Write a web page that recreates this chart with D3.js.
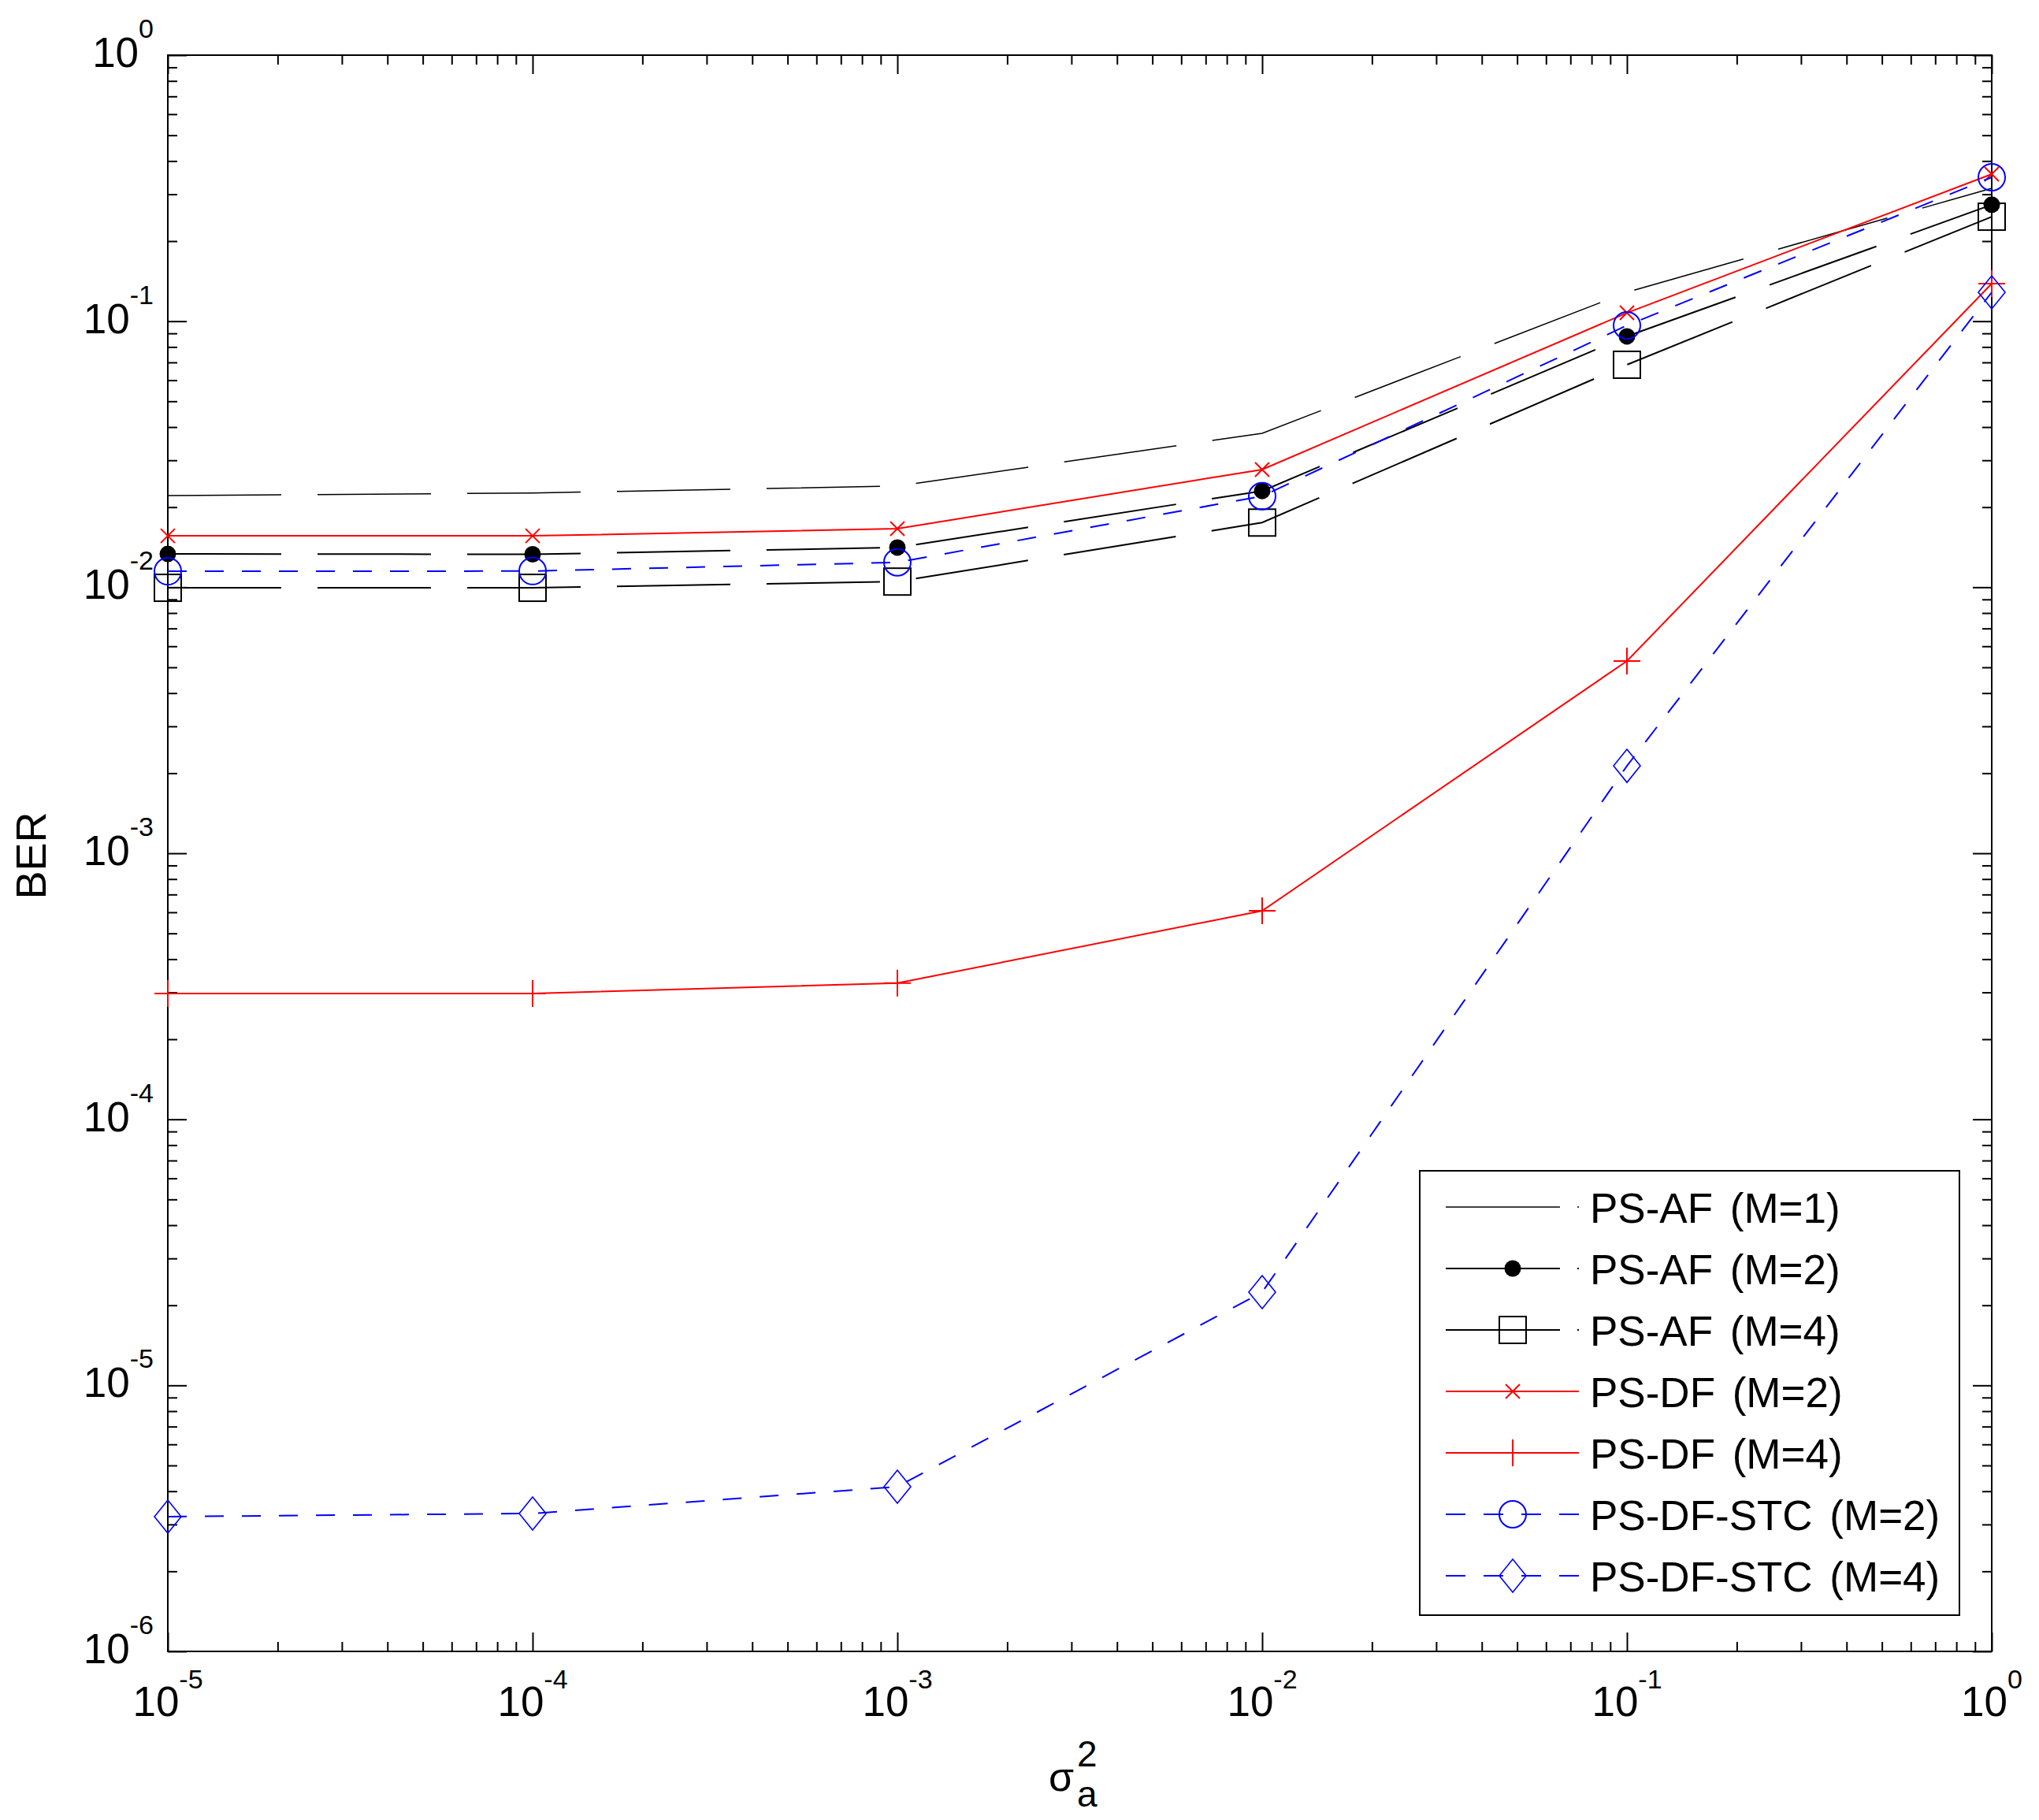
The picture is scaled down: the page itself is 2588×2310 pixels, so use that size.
<!DOCTYPE html>
<html lang="en">
<head>
  <meta charset="UTF-8">
  <title>BER vs sigma_a^2</title>
  <script src="https://d3js.org/d3.v7.min.js"></script>
  <style>
    body { margin: 0; background: #fff; }
    text { font-family: "Liberation Sans", Arial, sans-serif; fill: #000; }
  </style>
</head>
<body>
  <svg id="chart" width="2588" height="2310"></svg>

  <script>
    // Data
    const sigmaValues = [1e-5, 1e-4, 1e-3, 1e-2, 1e-1, 1];
    const psAfM1 = [0.0221, 0.0226, 0.0240, 0.0379, 0.1284, 0.316];
    const psAfM2 = [0.01334, 0.0133, 0.0141, 0.0230, 0.0877, 0.274];
    const psAfM4 = [0.00995, 0.00995, 0.0105, 0.0175, 0.0686, 0.247];
    const psDfM2 = [0.0156, 0.0156, 0.0166, 0.0277, 0.1075, 0.357];
    const psDfM4 = [2.97e-4, 2.97e-4, 3.25e-4, 6.08e-4, 5.28e-3, 0.1384];
    const stcM2 = [0.01148, 0.0115, 0.0124, 0.0220, 0.0964, 0.3475];
    const stcM4 = [3.21e-6, 3.30e-6, 4.16e-6, 2.24e-5, 2.13e-3, 0.1284];

    const seriesNames = ["PS-AF (M=1)", "PS-AF (M=2)", "PS-AF (M=4)", "PS-DF (M=2)",
                         "PS-DF (M=4)", "PS-DF-STC (M=2)", "PS-DF-STC (M=4)"];

    const xTickExponents = [-5, -4, -3, -2, -1, 0];
    const yTickExponents = [-6, -5, -4, -3, -2, -1, 0];

    // series table built from the arrays above
    const series = [
      { name: seriesNames[0], values: psAfM1, color: "#000", width: 1.5, dash: "144,46", legendDash: null, marker: null },
      { name: seriesNames[1], values: psAfM2, color: "#000", width: 2,   dash: "144,46", legendDash: null, marker: "dot" },
      { name: seriesNames[2], values: psAfM4, color: "#000", width: 2,   dash: "144,46", legendDash: null, marker: "square" },
      { name: seriesNames[3], values: psDfM2, color: "#ff0000", width: 2, dash: null, legendDash: null, marker: "x" },
      { name: seriesNames[4], values: psDfM4, color: "#ff0000", width: 2, dash: null, legendDash: null, marker: "plus" },
      { name: seriesNames[5], values: stcM2, color: "#0000ff", width: 2, dash: "24,23", legendDash: "25,23", marker: "circle" },
      { name: seriesNames[6], values: stcM4, color: "#0000ff", width: 2, dash: "24,23", legendDash: "25,23", marker: "diamond" }
    ];

    const svg = d3.select("#chart");
    svg.append("rect").attr("width", 2588).attr("height", 2310).attr("fill", "#fff");

    const plotLeft = 213, plotRight = 2528, plotTop = 70, plotBottom = 2096;

    const x = d3.scaleLog().domain([1e-5, 1]).range([plotLeft, plotRight]);
    const y = d3.scaleLog().domain([1e-6, 1]).range([plotBottom, plotTop]);

    // minor tick positions (2..9 in each decade)
    function minorTicks(lo, hi) {
      const out = [];
      for (let e = lo; e < hi; e++) {
        for (let k = 2; k <= 9; k++) out.push(k * Math.pow(10, e));
      }
      return out;
    }
    const xMajor = xTickExponents.map(e => Math.pow(10, e));
    const yMajor = yTickExponents.map(e => Math.pow(10, e));
    const xMinor = minorTicks(-5, 0);
    const yMinor = minorTicks(-6, 0);

    const axes = svg.append("g").attr("class", "axes");

    function addAxis(axisFn, scale, values, size, transform) {
      const g = axes.append("g")
        .attr("transform", transform)
        .call(axisFn(scale).tickValues(values).tickSize(-size).tickSizeOuter(0).tickFormat(""));
      g.select(".domain").remove();
      g.selectAll(".tick line").attr("stroke", "#000").attr("stroke-width", 2);
    }
    // inward ticks on all four sides
    addAxis(d3.axisBottom, x, xMajor, 24, `translate(0,${plotBottom})`);
    addAxis(d3.axisBottom, x, xMinor, 12, `translate(0,${plotBottom})`);
    addAxis(d3.axisTop, x, xMajor, 24, `translate(0,${plotTop})`);
    addAxis(d3.axisTop, x, xMinor, 12, `translate(0,${plotTop})`);
    addAxis(d3.axisLeft, y, yMajor, 24, `translate(${plotLeft},0)`);
    addAxis(d3.axisLeft, y, yMinor, 12, `translate(${plotLeft},0)`);
    addAxis(d3.axisRight, y, yMajor, 24, `translate(${plotRight},0)`);
    addAxis(d3.axisRight, y, yMinor, 12, `translate(${plotRight},0)`);

    axes.append("rect")
      .attr("x", plotLeft).attr("y", plotTop)
      .attr("width", plotRight - plotLeft).attr("height", plotBottom - plotTop)
      .attr("fill", "none").attr("stroke", "#000").attr("stroke-width", 2);

    // tick labels 10^n
    const xLabels = svg.append("g");
    xTickExponents.forEach(e => {
      const t = xLabels.append("text")
        .attr("x", x(Math.pow(10, e)))
        .attr("y", 2178)
        .attr("text-anchor", "middle")
        .style("font-size", "53px");
      t.append("tspan").text("10");
      t.append("tspan").attr("dy", -35).style("font-size", "34px").text(String(e));
    });

    const yLabels = svg.append("g");
    yTickExponents.forEach(e => {
      const t = yLabels.append("text")
        .attr("x", 195)
        .attr("y", y(Math.pow(10, e)) + 15)
        .attr("text-anchor", "end")
        .style("font-size", "53px");
      t.append("tspan").text("10");
      t.append("tspan").attr("dy", -37).style("font-size", "34px").text(String(e));
    });

    // axis titles
    svg.append("text")
      .attr("transform", "translate(58,1086) rotate(-90)")
      .attr("text-anchor", "middle")
      .style("font-size", "54px")
      .text("BER");

    svg.append("text").attr("x", 1331).attr("y", 2273).style("font-size", "52px").text("\u03c3");
    svg.append("text").attr("x", 1367).attr("y", 2242).style("font-size", "46px").text("2");
    svg.append("text").attr("x", 1367).attr("y", 2293).style("font-size", "46px").text("a");

    // markers
    function drawMarker(g, type, color, cx, cy) {
      if (!type) return;
      if (type === "dot") {
        g.append("circle").attr("cx", cx).attr("cy", cy).attr("r", 10.5).attr("fill", color);
      } else if (type === "square") {
        g.append("rect").attr("x", cx - 17).attr("y", cy - 17).attr("width", 34).attr("height", 34)
          .attr("fill", "none").attr("stroke", color).attr("stroke-width", 2);
      } else if (type === "x") {
        g.append("path").attr("d", `M${cx - 9},${cy - 9}L${cx + 9},${cy + 9}M${cx + 9},${cy - 9}L${cx - 9},${cy + 9}`)
          .attr("stroke", color).attr("stroke-width", 2).attr("fill", "none");
      } else if (type === "plus") {
        g.append("path").attr("d", `M${cx - 17},${cy}H${cx + 17}M${cx},${cy - 17}V${cy + 17}`)
          .attr("stroke", color).attr("stroke-width", 2).attr("fill", "none");
      } else if (type === "circle") {
        g.append("circle").attr("cx", cx).attr("cy", cy).attr("r", 17)
          .attr("fill", "none").attr("stroke", color).attr("stroke-width", 2);
      } else if (type === "diamond") {
        g.append("path").attr("d", `M${cx},${cy - 21}L${cx + 17},${cy}L${cx},${cy + 21}L${cx - 17},${cy}Z`)
          .attr("fill", "none").attr("stroke", color).attr("stroke-width", 1.6);
      }
    }

    const line = d3.line()
      .x((d, i) => x(sigmaValues[i]))
      .y(d => y(d));

    const plot = svg.append("g");
    series.forEach(s => {
      const g = plot.append("g");
      g.append("path")
        .attr("d", line(s.values))
        .attr("fill", "none")
        .attr("stroke", s.color)
        .attr("stroke-width", s.width)
        .attr("stroke-dasharray", s.dash);
      s.values.forEach((v, i) => drawMarker(g, s.marker, s.color, x(sigmaValues[i]), y(v)));
    });

    // legend
    const legend = svg.append("g");
    legend.append("rect")
      .attr("x", 1802).attr("y", 1486).attr("width", 685).attr("height", 564)
      .attr("fill", "#fff").attr("stroke", "#000").attr("stroke-width", 2);

    series.forEach((s, i) => {
      const ly = 1532 + i * 78;
      const g = legend.append("g");
      if (s.color === "#000") {
        g.append("line").attr("x1", 1835).attr("x2", 1980).attr("y1", ly).attr("y2", ly)
          .attr("stroke", s.color).attr("stroke-width", s.width);
        g.append("line").attr("x1", 2002).attr("x2", 2004).attr("y1", ly).attr("y2", ly)
          .attr("stroke", s.color).attr("stroke-width", s.width);
      } else {
        g.append("line").attr("x1", 1835).attr("x2", 2004).attr("y1", ly).attr("y2", ly)
          .attr("stroke", s.color).attr("stroke-width", s.width)
          .attr("stroke-dasharray", s.legendDash);
      }
      drawMarker(g, s.marker, s.color, 1920, ly);
      g.append("text")
        .attr("x", 2018).attr("y", ly + 19.5)
        .style("font-size", "53px")
        .style("word-spacing", "7px")
        .text(s.name);
    });
  </script>
</body>
</html>
